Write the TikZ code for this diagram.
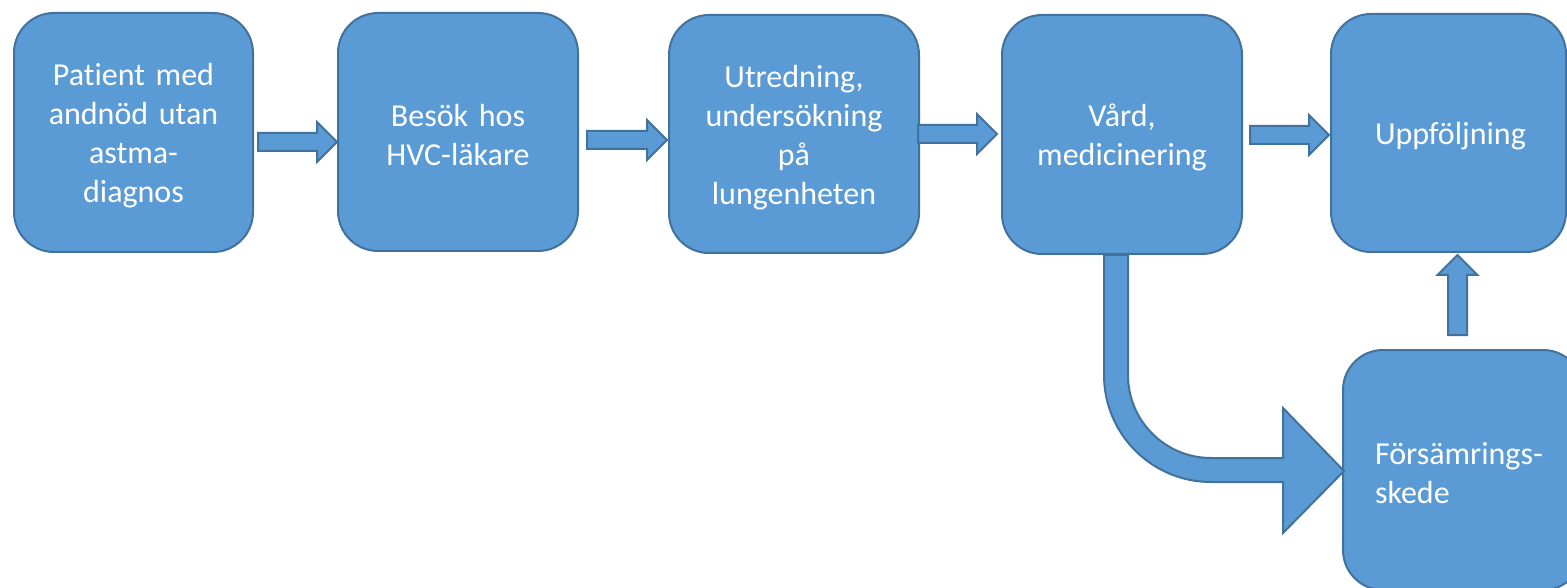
\documentclass[tikz,border=0pt]{standalone}
\usepackage{fontspec}
\setmainfont{Carlito}[Ligatures=NoCommon]
\usetikzlibrary{calc}
\definecolor{boxfill}{HTML}{5B9BD5}
\definecolor{boxline}{HTML}{41719C}
\newcommand\tstrut{\rule{0pt}{29pt}}
\newcommand\harrow[2]{\draw[barrow] let \p1=(#1), \p2=(#2) in
  (\x1,\y1+9pt) -- (\x2-20pt,\y1+9pt) -- (\x2-20pt,\y1+20pt) -- (\x2,\y1) --
  (\x2-20pt,\y1-20pt) -- (\x2-20pt,\y1-9pt) -- (\x1,\y1-9pt) -- cycle;}
\newcommand\varrow[2]{\draw[barrow] let \p1=(#1), \p2=(#2) in
  (\x1-9.5pt,\y1) -- (\x1-9.5pt,\y2-20pt) -- (\x1-20pt,\y2-20pt) -- (\x1,\y2) --
  (\x1+20pt,\y2-20pt) -- (\x1+9.5pt,\y2-20pt) -- (\x1+9.5pt,\y1) -- cycle;}
\begin{document}
\begin{tikzpicture}[x=1pt,y=-1pt,
  stage/.style={draw=boxline, fill=boxfill, line width=2pt, rounded corners=40pt,
    text=white, inner sep=0pt, font=\fontsize{32}{39}\selectfont, align=center},
  barrow/.style={draw=boxline, fill=boxfill, line width=2pt, line join=miter}]
\useasboundingbox (0,0) rectangle (1567,588);
\clip (0,0) rectangle (1567,588);
\node[stage, minimum width=239pt, minimum height=239pt, text width=219pt] (b1) at (133.5,132.5) {\tstrut Patient med\\andnöd utan\\astma-\\diagnos};
\node[stage, minimum width=240pt, minimum height=238pt, text width=220pt] (b2) at (458,132) {\tstrut Besök hos\\HVC-läkare};
\node[stage, minimum width=250pt, minimum height=238pt, text width=230pt] (b3) at (794,134) {\tstrut Utredning,\\undersökning\\på\\lungenheten};
\node[stage, minimum width=240pt, minimum height=239pt, text width=220pt] (b4) at (1122,134.5) {\tstrut Vård,\\medicinering};
\node[stage, minimum width=235pt, minimum height=238pt, text width=147pt, align=left] (b5) at (1448.5,133) {\tstrut Uppföljning};
\node[stage, minimum width=240pt, minimum height=240pt, text width=176pt, align=left] (b6) at (1463,470) {\tstrut Försämrings-\\skede};
% straight block arrows
\coordinate (s1) at (258,142); \coordinate (t1) at (337,142);
\coordinate (s2) at (587,140); \coordinate (t2) at (667,140);
\coordinate (s3) at (918,134); \coordinate (t3) at (997,134);
\coordinate (s4) at (1250,135); \coordinate (t4) at (1329,135);
\harrow{s1}{t1}
\harrow{s2}{t2}
\harrow{s3}{t3}
\harrow{s4}{t4}
% up arrow
\coordinate (s5) at (1457.5,335); \coordinate (t5) at (1457.5,255);
\varrow{s5}{t5}
% bent arrow
\draw[barrow] (1104,255) -- (1104,375) arc[start angle=180, end angle=90, radius=107]
  -- (1283,482) -- (1283,533) -- (1344,471) -- (1283,408) -- (1283,458) -- (1211,458)
  arc[start angle=90, end angle=180, radius=83] -- (1128,255) -- cycle;
\end{tikzpicture}
\end{document}
